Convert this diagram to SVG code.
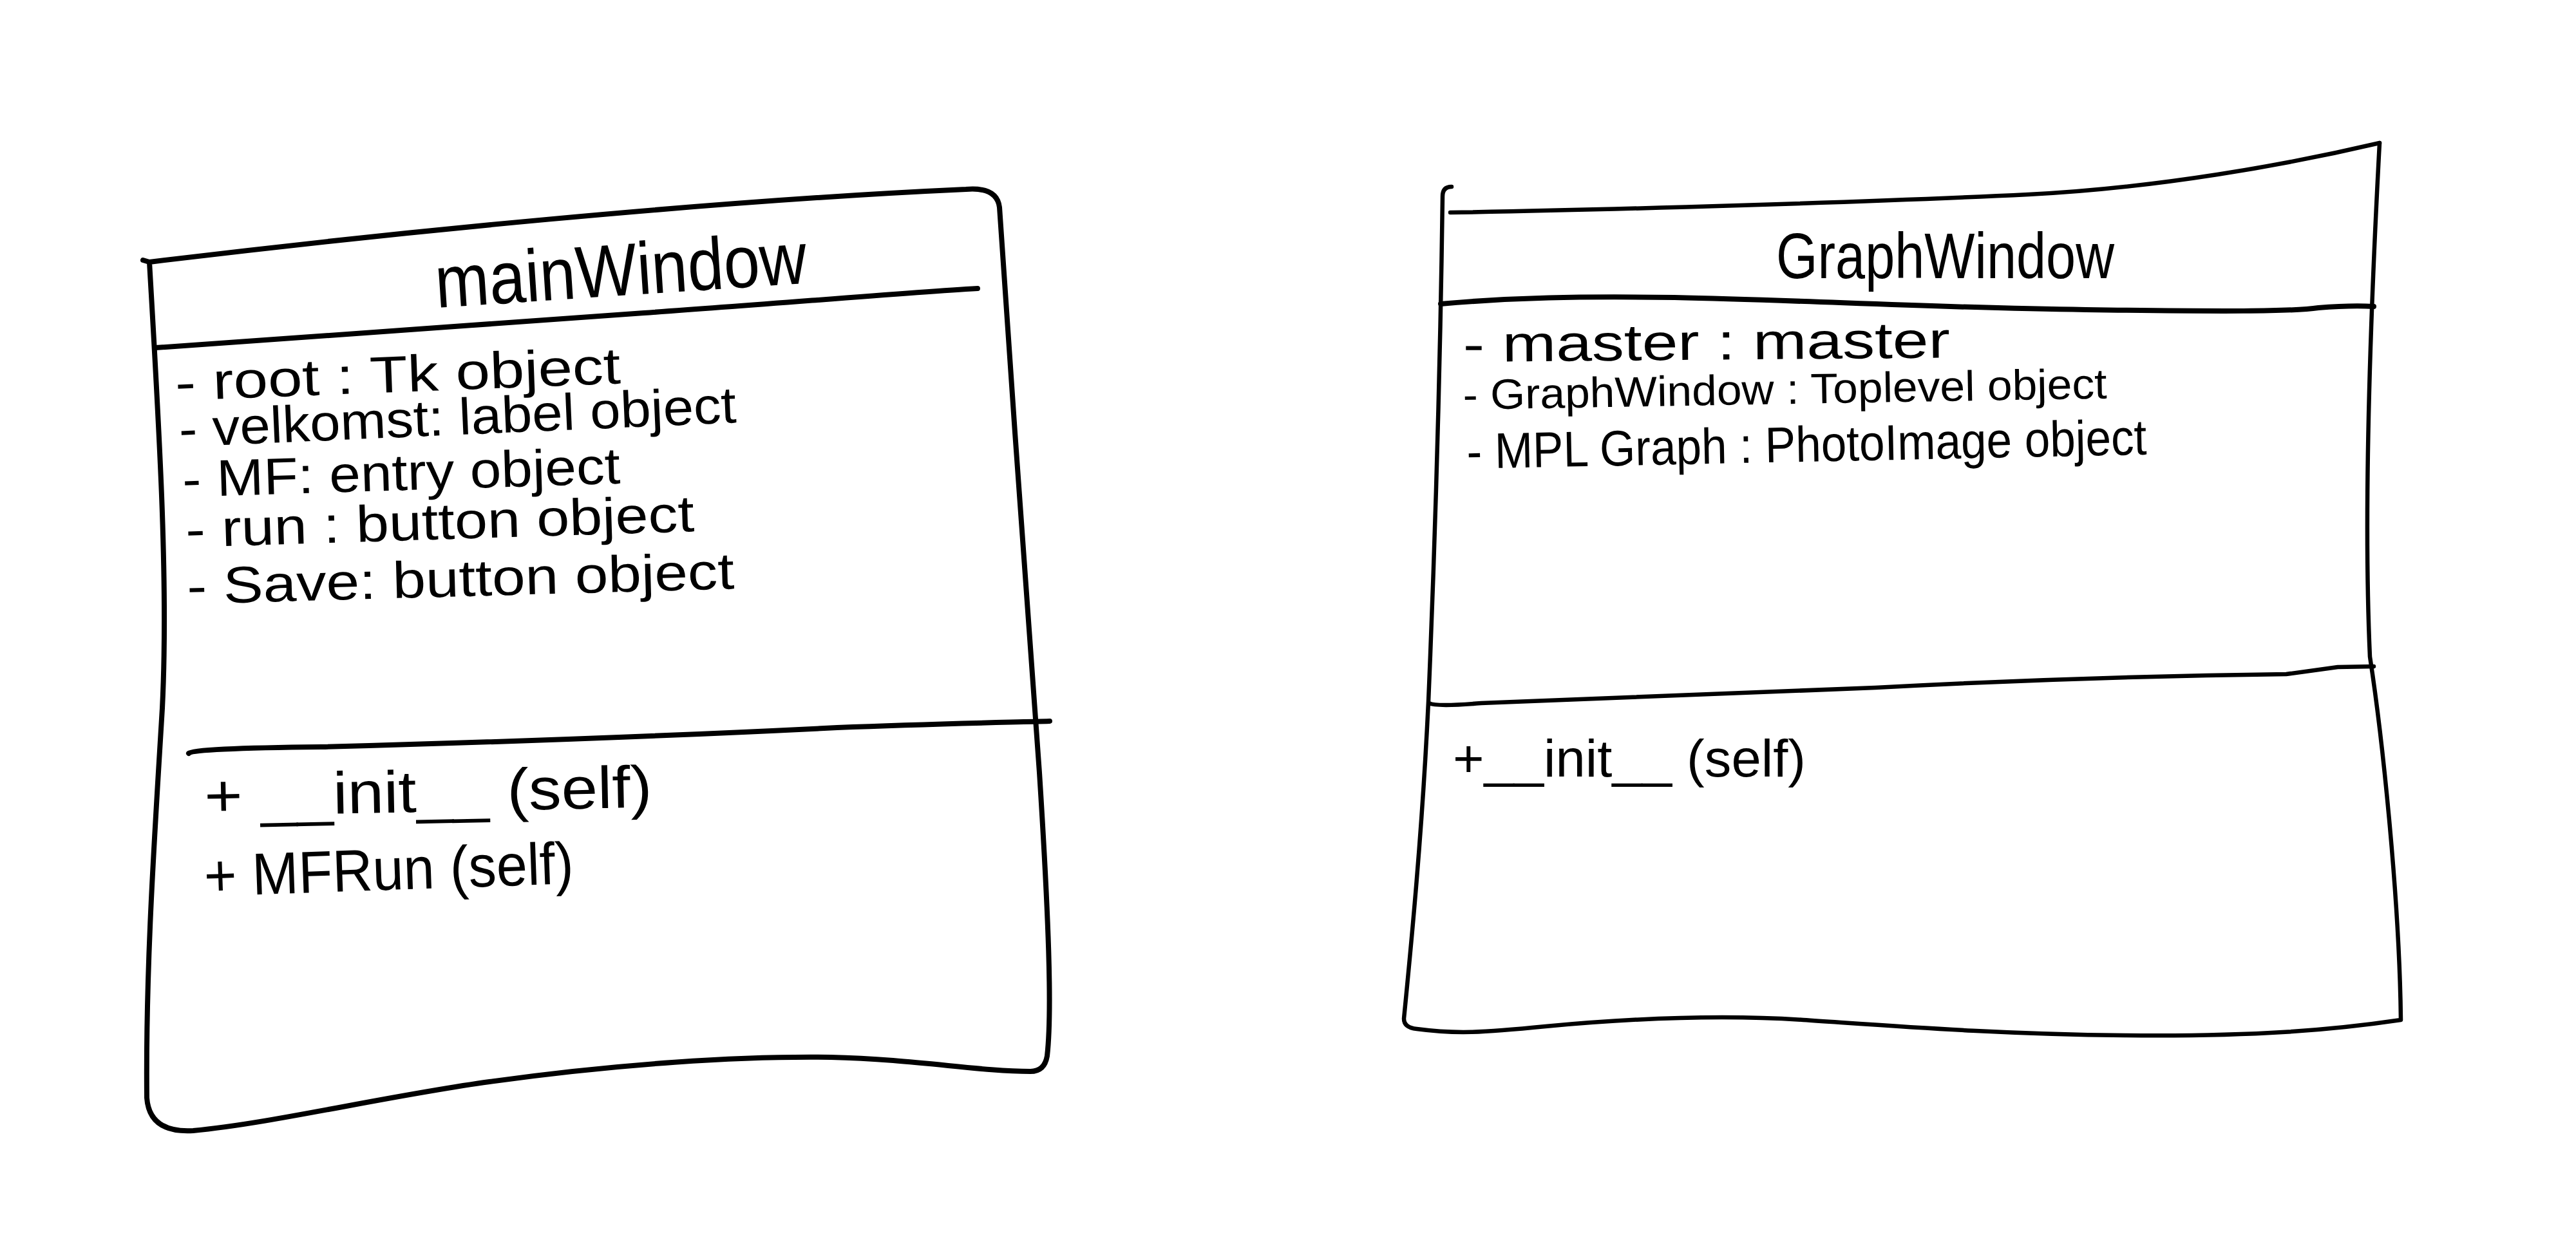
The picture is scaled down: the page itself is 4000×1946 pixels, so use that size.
<svg xmlns="http://www.w3.org/2000/svg" width="4000" height="1946" viewBox="0 0 4000 1946">
<style>
  .frame { fill: none; stroke: #000; stroke-width: 8; stroke-linecap: round; stroke-linejoin: round; }
  .frame2 { fill: none; stroke: #000; stroke-width: 6.5; stroke-linecap: round; stroke-linejoin: round; }
  .t { font-family: "Liberation Sans", Arial, sans-serif; fill: #000; }
</style>
<rect x="0" y="0" width="4000" height="1946" fill="#fff"/>
<g id="mainWindow">
  <path class="frame" d="M 222,404 L 232,407 C 600,362 1100,312 1500,294 Q 1548,290 1552,322 C 1570,600 1600,1000 1614,1200 C 1628,1420 1634,1570 1626,1640 Q 1622,1664 1600,1664 C 1520,1664 1420,1645 1290,1642 C 1150,1640 960,1652 760,1680 C 600,1702 420,1745 300,1756 Q 232,1760 228,1705 C 226,1500 240,1300 252,1100 C 262,900 246,650 232,407"/>
  <path class="frame" d="M 242,540 C 500,522 800,500 1000,486 C 1200,472 1400,455 1518,448"/>
  <path class="frame" d="M 293,1170 Q 300,1162 500,1160 C 800,1152 1100,1140 1300,1130 C 1450,1124 1560,1122 1630,1120"/>
  <text class="t" x="678" y="478" font-size="115" textLength="578" lengthAdjust="spacingAndGlyphs" transform="rotate(-3.8 678 478)">mainWindow</text>
  <text class="t" x="273" y="622" font-size="80" textLength="692" lengthAdjust="spacingAndGlyphs" transform="rotate(-2.2 273 622)">- root : Tk object</text>
  <text class="t" x="279" y="694" font-size="80" textLength="866" lengthAdjust="spacingAndGlyphs" transform="rotate(-2.5 279 694)">- velkomst: label object</text>
  <text class="t" x="284" y="772" font-size="80" textLength="680" lengthAdjust="spacingAndGlyphs" transform="rotate(-1.8 284 772)">- MF: entry object</text>
  <text class="t" x="289" y="850" font-size="80" textLength="790" lengthAdjust="spacingAndGlyphs" transform="rotate(-1.8 289 850)">- run : button object</text>
  <text class="t" x="291" y="938" font-size="80" textLength="850" lengthAdjust="spacingAndGlyphs" transform="rotate(-1.6 291 938)">- Save: button object</text>
  <text class="t" x="318" y="1268" font-size="92" textLength="695" lengthAdjust="spacingAndGlyphs" transform="rotate(-1.2 318 1268)">+ __init__ (self)</text>
  <text class="t" x="318" y="1392" font-size="92" textLength="574" lengthAdjust="spacingAndGlyphs" transform="rotate(-2 318 1392)">+ MFRun (self)</text>
</g>
<g id="GraphWindow">
  <path class="frame2" d="M 2254,290 Q 2240,290 2240,305 C 2236,600 2226,900 2218,1090 C 2208,1300 2190,1480 2180,1582 Q 2180,1596 2200,1598 C 2260,1606 2300,1604 2400,1594 C 2550,1580 2680,1576 2800,1584 C 2950,1594 3100,1606 3300,1608 C 3500,1610 3620,1600 3728,1584 C 3726,1400 3700,1150 3680,1020 C 3670,800 3680,500 3695,222"/>
  <path class="frame2" d="M 2252,330 C 2500,326 2900,314 3150,302 C 3350,292 3550,256 3695,222"/>
  <path class="frame" d="M 2237,472 C 2350,462 2450,460 2600,462 C 2800,466 3000,478 3239,481 C 3450,484 3560,484 3600,478 Q 3650,474 3686,476"/>
  <path class="frame2" d="M 2219,1092 Q 2230,1098 2300,1092 C 2500,1086 2700,1078 2912,1068 C 3100,1058 3300,1050 3550,1047 Q 3600,1040 3630,1036 L 3686,1035"/>
  <text class="t" x="2758" y="432" font-size="100" textLength="525" lengthAdjust="spacingAndGlyphs">GraphWindow</text>
  <text class="t" x="2272" y="562" font-size="80" textLength="756" lengthAdjust="spacingAndGlyphs" transform="rotate(-0.5 2272 562)">- master : master</text>
  <text class="t" x="2272" y="636" font-size="66" textLength="1000" lengthAdjust="spacingAndGlyphs" transform="rotate(-1 2272 636)">- GraphWindow : Toplevel object</text>
  <text class="t" x="2278" y="728" font-size="78" textLength="1056" lengthAdjust="spacingAndGlyphs" transform="rotate(-1.2 2278 728)">- MPL Graph : PhotoImage object</text>
  <text class="t" x="2256" y="1206" font-size="82" textLength="548" lengthAdjust="spacingAndGlyphs">+__init__ (self)</text>
</g>
<g id="connectors"></g>
</svg>
